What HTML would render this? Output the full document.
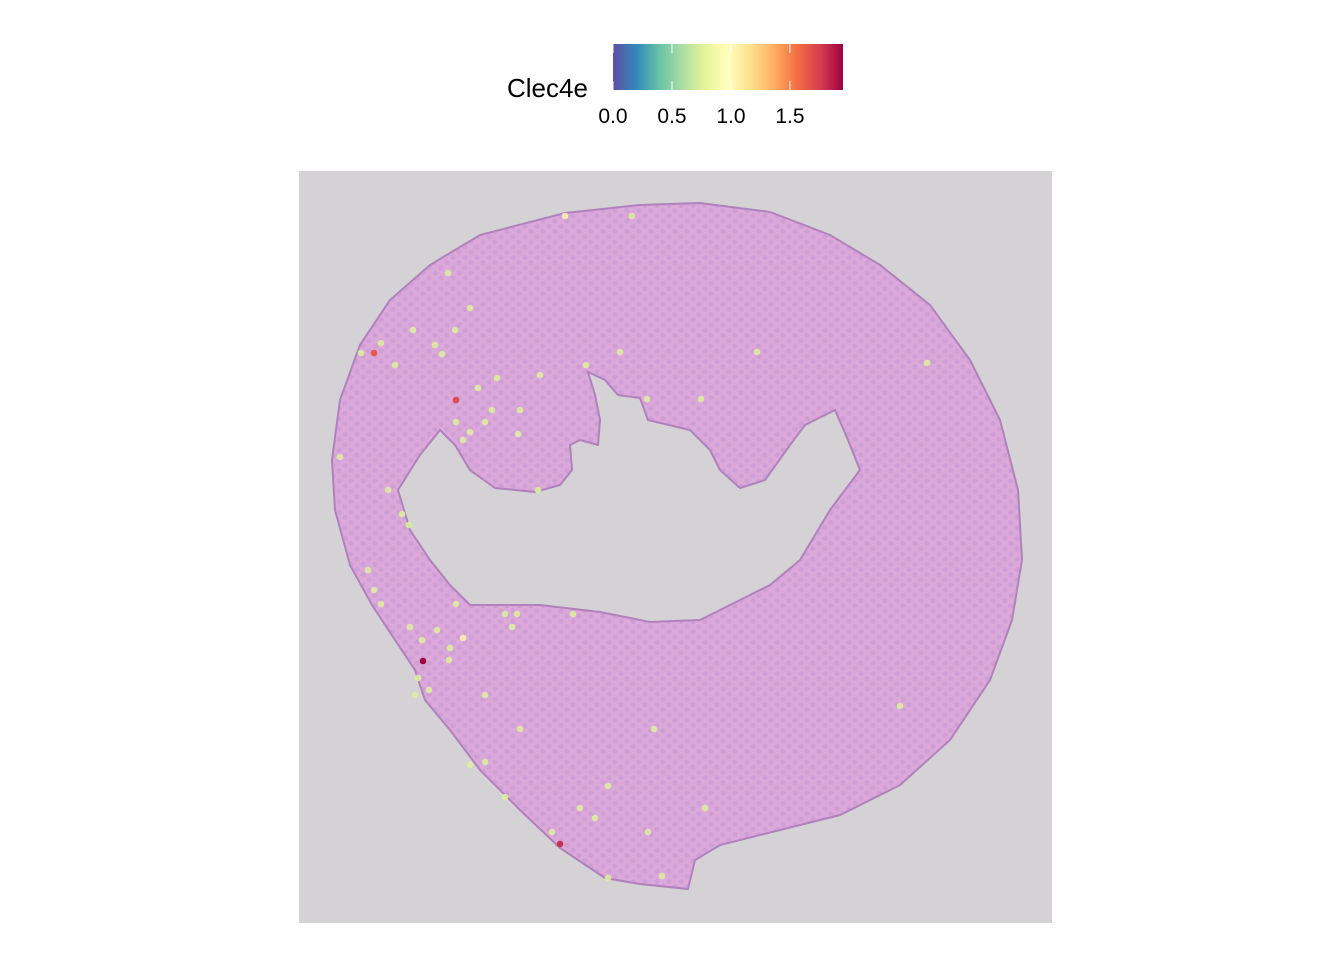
<!DOCTYPE html>
<html><head><meta charset="utf-8"><style>
body{margin:0;background:#fff;}
svg{display:block;font-family:"Liberation Sans",Arial,sans-serif;}
</style></head><body>
<svg width="1344" height="960" viewBox="0 0 1344 960">
<defs>
<linearGradient id="spec" x1="0" x2="1" y1="0" y2="0">
<stop offset="0" stop-color="#5E4FA2"/><stop offset="0.1" stop-color="#3288BD"/><stop offset="0.2" stop-color="#66C2A5"/><stop offset="0.3" stop-color="#ABDDA4"/><stop offset="0.4" stop-color="#E6F598"/><stop offset="0.5" stop-color="#FFFFBF"/><stop offset="0.6" stop-color="#FEE08B"/><stop offset="0.7" stop-color="#FDAE61"/><stop offset="0.8" stop-color="#F46D43"/><stop offset="0.9" stop-color="#D53E4F"/><stop offset="1" stop-color="#9E0142"/>
</linearGradient>
<pattern id="spots" width="12" height="10.4" patternUnits="userSpaceOnUse">
<circle cx="3" cy="2.6" r="2.6" fill="#b58fd0" opacity="0.35"/><circle cx="9" cy="7.8" r="2.6" fill="#b58fd0" opacity="0.35"/>
</pattern>
</defs>
<g>
<text x="507" y="97" font-size="26" fill="#000">Clec4e</text>
<rect x="613" y="44" width="230" height="46" fill="url(#spec)"/>
<g id="ticks"></g>
</g>
<rect x="299" y="171" width="753" height="752" fill="#d4d2d4"/>
<path fill-rule="evenodd" stroke="#b080bc" stroke-width="2" fill="#dca8d9"
d="M565,213 L640,205 L700,203 L770,212 L830,235 L880,265 L930,305 L970,360 L1000,420 L1018,490 L1022,560 L1012,620 L990,680 L950,740 L900,785 L840,815 L780,830 L720,845 L695,860 L688,889 L640,884 L605,878 L560,848 L520,810 L480,770 L450,730 L425,700 L415,670 L395,640 L372,605 L350,565 L335,510 L332,460 L340,400 L360,345 L390,300 L430,265 L480,235 Z
M398,490 L420,455 L440,430 L455,445 L470,470 L495,488 L535,492 L560,485 L572,470 L570,445 L580,440 L598,445 L600,420 L595,395 L588,372 L605,380 L618,395 L640,398 L648,420 L690,430 L710,450 L720,470 L740,488 L765,480 L790,445 L805,425 L835,410 L848,440 L860,470 L830,510 L800,560 L770,585 L740,600 L700,620 L650,622 L600,612 L540,605 L470,605 L450,585 L430,560 L410,530 Z"/>
<path fill-rule="evenodd" fill="url(#spots)" d="M565,213 L640,205 L700,203 L770,212 L830,235 L880,265 L930,305 L970,360 L1000,420 L1018,490 L1022,560 L1012,620 L990,680 L950,740 L900,785 L840,815 L780,830 L720,845 L695,860 L688,889 L640,884 L605,878 L560,848 L520,810 L480,770 L450,730 L425,700 L415,670 L395,640 L372,605 L350,565 L335,510 L332,460 L340,400 L360,345 L390,300 L430,265 L480,235 Z
M398,490 L420,455 L440,430 L455,445 L470,470 L495,488 L535,492 L560,485 L572,470 L570,445 L580,440 L598,445 L600,420 L595,395 L588,372 L605,380 L618,395 L640,398 L648,420 L690,430 L710,450 L720,470 L740,488 L765,480 L790,445 L805,425 L835,410 L848,440 L860,470 L830,510 L800,560 L770,585 L740,600 L700,620 L650,622 L600,612 L540,605 L470,605 L450,585 L430,560 L410,530 Z"/>
<g id="dots"></g>
<script>
const tickValues=[0,0.5,1.0,1.5];
const tickLabels=["0.0","0.5","1.0","1.5"];
const spotX=[565,632,448,470,413,455,381,361,374,435,442,395,586,620,757,927,497,478,540,647,701,456,492,520,485,456,470,518,463,340,388,538,402,409,368,374,381,456,505,517,573,512,410,437,463,422,450,449,423,418,429,415,485,520,654,900,470,485,505,608,580,595,705,552,560,648,608,662];
const spotY=[216,216,273,308,330,330,343,353,353,345,354,365,365,352,352,363,378,388,375,399,399,400,410,410,422,422,432,434,440,457,490,490,514,525,570,590,604,604,614,614,614,627,627,630,638,640,648,660,661,678,690,695,695,729,729,706,765,762,797,786,808,818,808,832,844,832,878,876];
const spotV=[1.05,0.75,0.75,0.75,0.75,0.75,0.75,0.75,1.65,0.75,0.75,0.75,0.75,0.75,0.75,0.75,0.75,0.75,0.75,0.75,0.75,1.7,0.75,0.75,0.75,0.75,0.75,0.75,0.75,0.75,0.75,0.75,0.75,0.75,0.75,0.75,0.75,0.75,0.75,0.75,0.75,0.75,0.75,0.75,1.05,0.75,0.75,0.75,1.95,0.75,0.75,0.75,0.75,0.75,0.75,0.75,0.75,0.75,0.75,0.75,0.75,0.75,0.75,0.75,1.8,0.75,0.75,0.75];
const NS="http://www.w3.org/2000/svg";
const vmax=1.95, cx0=613, cw=230;
function xScale(v){return cx0+v/vmax*cw;}
const pal=["#5E4FA2","#3288BD","#66C2A5","#ABDDA4","#E6F598","#FFFFBF","#FEE08B","#FDAE61","#F46D43","#D53E4F","#9E0142"];
function hex(h){return [1,3,5].map(i=>parseInt(h.substr(i,2),16));}
function color(v){let t=Math.max(0,Math.min(1,v/vmax))*10;let i=Math.min(9,Math.floor(t)),f=t-i;
const a=hex(pal[i]),b=hex(pal[i+1]);return "rgb("+a.map((c,k)=>Math.round(c+(b[k]-c)*f)).join(",")+")";}
const tg=document.getElementById("ticks");
tickValues.forEach((v,i)=>{
 const x=xScale(v);
 const l1=document.createElementNS(NS,"line");
 l1.setAttribute("x1",x);l1.setAttribute("x2",x);l1.setAttribute("y1",44);l1.setAttribute("y2",53);l1.setAttribute("stroke","#fff");
 
 
 tg.appendChild(l1);
 const l2=document.createElementNS(NS,"line");
 l2.setAttribute("x1",x);l2.setAttribute("x2",x);l2.setAttribute("y1",81);l2.setAttribute("y2",90);l2.setAttribute("stroke","#fff");
 
 
 tg.appendChild(l2);
 const t=document.createElementNS(NS,"text");
 t.setAttribute("x",x);t.setAttribute("y",123);t.setAttribute("text-anchor","middle");t.setAttribute("font-size","21");t.textContent=tickLabels[i];
 
 
 tg.appendChild(t);
});
const dg=document.getElementById("dots");
spotX.forEach((x,i)=>{
 const c=document.createElementNS(NS,"circle");
 c.setAttribute("cx",x);c.setAttribute("cy",spotY[i]);c.setAttribute("r",3.3);
 c.setAttribute("fill",color(spotV[i]));
 if(spotV[i]<1.2)c.setAttribute("opacity","0.85");
 
 
 dg.appendChild(c);
});
</script>
</svg>
</body></html>
